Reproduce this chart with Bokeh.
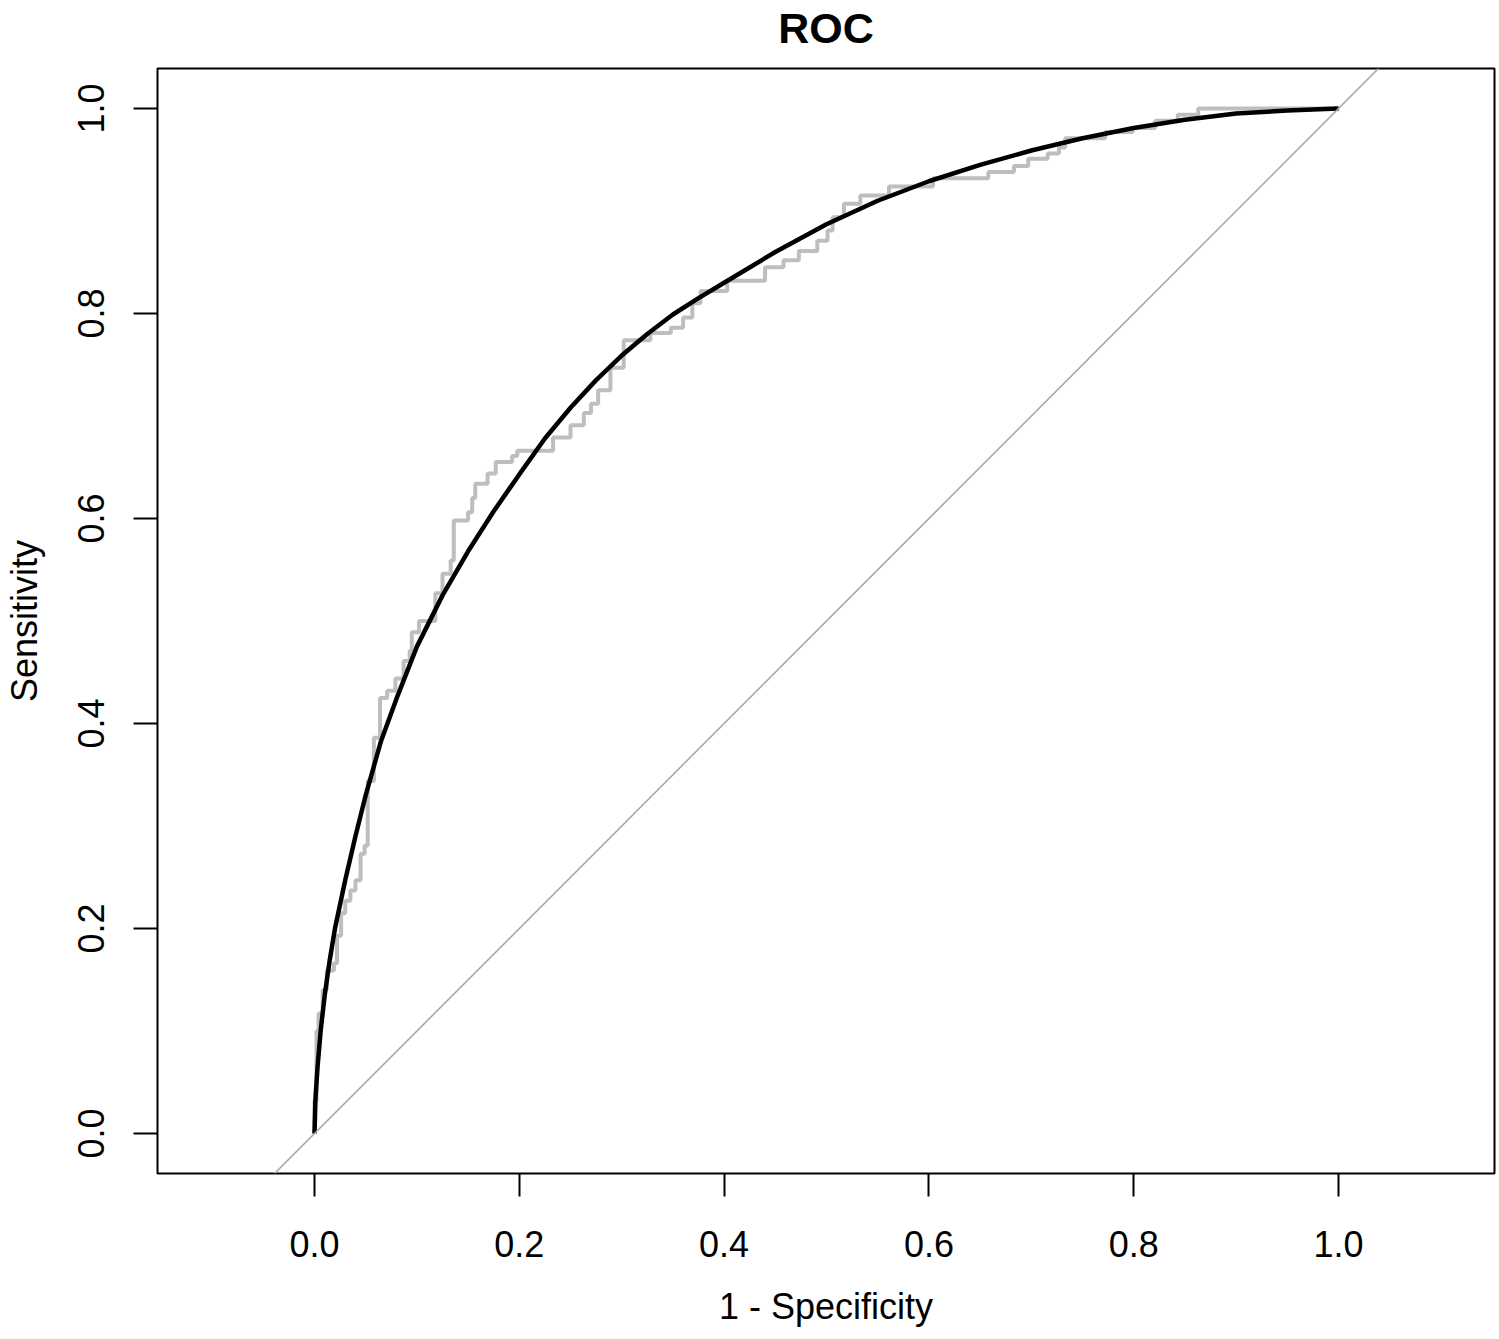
from bokeh.plotting import figure
from bokeh.models import Range1d, FixedTicker, NumeralTickFormatter, Slope, LinearAxis
from bokeh.embed import file_html
from bokeh.resources import INLINE

# Empirical ROC (step curve): false positive rate where each rise happens, level after the rise
step_fpr = [0.000, 0.002, 0.004, 0.008, 0.012, 0.019, 0.022, 0.026, 0.030, 0.035,
            0.040, 0.045, 0.049, 0.052, 0.058, 0.064, 0.071, 0.079, 0.087, 0.093,
            0.095, 0.102, 0.118, 0.125, 0.133, 0.136, 0.150, 0.154, 0.157, 0.169,
            0.177, 0.193, 0.198, 0.233, 0.250, 0.263, 0.270, 0.277, 0.289, 0.302,
            0.328, 0.348, 0.360, 0.369, 0.377, 0.403, 0.440, 0.458, 0.473, 0.491,
            0.501, 0.506, 0.517, 0.533, 0.561, 0.604, 0.658, 0.683, 0.697, 0.716,
            0.727, 0.733, 0.772, 0.799, 0.821, 0.843, 0.863]
step_tpr = [0.032, 0.100, 0.117, 0.140, 0.159, 0.166, 0.193, 0.215, 0.227, 0.237,
            0.247, 0.273, 0.281, 0.344, 0.386, 0.425, 0.432, 0.444, 0.461, 0.471,
            0.489, 0.500, 0.527, 0.546, 0.559, 0.598, 0.606, 0.620, 0.634, 0.644,
            0.655, 0.661, 0.666, 0.679, 0.691, 0.703, 0.712, 0.725, 0.747, 0.774,
            0.781, 0.786, 0.796, 0.810, 0.822, 0.832, 0.845, 0.852, 0.861, 0.871,
            0.881, 0.894, 0.907, 0.915, 0.924, 0.932, 0.938, 0.944, 0.951, 0.956,
            0.962, 0.971, 0.977, 0.981, 0.988, 0.994, 1.000]

# Smoothed ROC curve
smooth_fpr = [0, 0.001, 0.003, 0.006, 0.01, 0.015, 0.02, 0.03, 0.04, 0.05, 0.065, 0.08,
              0.1, 0.125, 0.15, 0.175, 0.2, 0.225, 0.25, 0.275, 0.3, 0.325, 0.35, 0.375,
              0.4, 0.45, 0.5, 0.55, 0.6, 0.65, 0.7, 0.75, 0.8, 0.85, 0.9, 0.95, 1.0]
smooth_tpr = [0, 0.035, 0.065, 0.1, 0.135, 0.17, 0.2, 0.247, 0.29, 0.33, 0.383, 0.424,
              0.475, 0.525, 0.568, 0.607, 0.643, 0.678, 0.708, 0.735, 0.759, 0.780, 0.799,
              0.815, 0.830, 0.860, 0.887, 0.910, 0.929, 0.945, 0.959, 0.971, 0.981, 0.989,
              0.995, 0.998, 1.0]

x_ticks = [0.0, 0.2, 0.4, 0.6, 0.8, 1.0]
y_ticks = [0.0, 0.2, 0.4, 0.6, 0.8, 1.0]

FONT = "Liberation Sans"

p = figure(width=1499, height=1339, output_backend="svg", toolbar_location=None,
           x_range=Range1d(-0.1533, 1.1523), y_range=Range1d(-0.039, 1.039),
           min_border_left=157, min_border_right=5,
           min_border_top=68, min_border_bottom=166)
p.background_fill_color = "white"
p.border_fill_color = "white"
p.xgrid.visible = False
p.ygrid.visible = False
p.outline_line_color = "black"
p.outline_line_width = 2

for ax, ticks in ((p.xaxis[0], x_ticks), (p.yaxis[0], y_ticks)):
    ax.ticker = FixedTicker(ticks=ticks)
    ax.formatter = NumeralTickFormatter(format="0.0")
    ax.axis_line_color = None
    ax.major_tick_line_color = "black"
    ax.major_tick_line_width = 2
    ax.major_tick_in = 0
    ax.minor_tick_line_color = None
    ax.major_label_text_font = FONT
    ax.major_label_text_font_size = "36px"
    ax.major_label_text_color = "black"
    ax.axis_label_text_font = FONT
    ax.axis_label_text_font_size = "36px"
    ax.axis_label_text_font_style = "normal"
    ax.axis_label_text_color = "black"

p.xaxis[0].axis_label = "1 - Specificity"
p.xaxis[0].major_tick_out = 23
p.xaxis[0].major_label_standoff = 34
p.xaxis[0].axis_label_standoff = 26

p.yaxis[0].axis_label = "Sensitivity"
p.yaxis[0].major_tick_out = 24
p.yaxis[0].major_label_orientation = "vertical"
p.yaxis[0].major_label_standoff = 29
p.yaxis[0].axis_label_standoff = 31

# main title: a tick-less axis above the frame carrying the bold label "ROC"
title_axis = LinearAxis(ticker=FixedTicker(ticks=[]), axis_label="ROC",
                        axis_line_color=None, major_tick_out=0, major_tick_in=0,
                        major_label_standoff=0, minor_tick_out=0, minor_tick_in=0,
                        axis_label_standoff=17, axis_label_text_font=FONT,
                        axis_label_text_font_size="43px",
                        axis_label_text_font_style="bold",
                        axis_label_text_color="black")
p.add_layout(title_axis, "above")

# diagonal reference line
p.add_layout(Slope(gradient=1, y_intercept=0, line_color="#a8a8a8", line_width=1.6))

# build step path from the corner arrays
xs, ys = [0.0], [0.0]
for i in range(len(step_fpr)):
    xs.append(step_fpr[i]); ys.append(ys[-1])
    xs.append(step_fpr[i]); ys.append(step_tpr[i])
xs.append(1.0); ys.append(ys[-1])

p.line(xs, ys, line_color="#bebebe", line_width=4)
p.line(smooth_fpr, smooth_tpr, line_color="black", line_width=4.5)

open("out.html", "w").write(file_html(p, INLINE))
